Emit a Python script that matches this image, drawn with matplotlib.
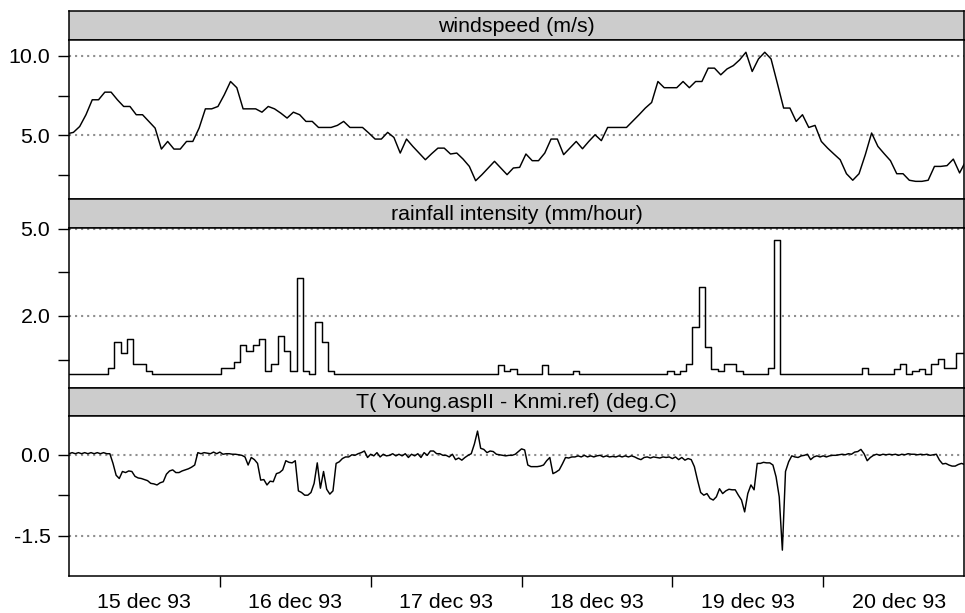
import numpy as np
import matplotlib
matplotlib.use('Agg')
import matplotlib.pyplot as plt
from matplotlib.ticker import FixedLocator, FixedFormatter, NullFormatter

plt.rcParams['font.family'] = ['Liberation Sans', 'DejaVu Sans']

# ---------------- data (time in hours since 15 dec 93 00:00) ----------------
panel_titles = ["windspeed (m/s)", "rainfall intensity (mm/hour)",
                "T( Young.aspII - Knmi.ref) (deg.C)"]
day_labels = ["15 dec 93", "16 dec 93", "17 dec 93", "18 dec 93", "19 dec 93", "20 dec 93"]

wind_start, wind_step = -0.3, 1.0
wind = [5.1, 5.19, 5.56, 6.3, 7.24, 7.24, 7.72, 7.72, 7.24, 6.82,
        6.82, 6.3, 6.3, 5.88, 5.46, 4.14, 4.62, 4.14, 4.14, 4.62,
        4.62, 5.46, 6.67, 6.67, 6.82, 7.55, 8.39, 8.0, 6.67, 6.67,
        6.67, 6.46, 6.82, 6.67, 6.4, 6.09, 6.46, 6.3, 5.88, 5.88,
        5.5, 5.5, 5.5, 5.63, 5.88, 5.5, 5.5, 5.5, 5.15, 4.77,
        4.77, 5.19, 4.87, 3.89, 4.77, 4.31, 3.89, 3.47, 3.85, 4.2,
        4.2, 3.83, 3.89, 3.51, 3.05, 2.15, 2.53, 2.95, 3.37, 2.95,
        2.53, 2.95, 2.99, 3.83, 3.41, 3.41, 3.89, 4.77, 4.77, 3.79,
        4.2, 4.62, 4.16, 4.62, 5.04, 4.67, 5.5, 5.5, 5.5, 5.5,
        5.9, 6.3, 6.72, 7.07, 8.39, 8.0, 8.0, 8.0, 8.39, 8.0,
        8.39, 8.39, 9.23, 9.23, 8.81, 9.18, 9.39, 9.75, 10.23, 9.02,
        9.81, 10.23, 9.81, 8.28, 6.72, 6.72, 5.88, 6.3, 5.5, 5.63,
        4.62, 4.2, 3.83, 3.47, 2.59, 2.18, 2.59, 3.79, 5.15, 4.31,
        3.85, 3.41, 2.59, 2.59, 2.18, 2.11, 2.11, 2.18, 3.05, 3.05,
        3.1, 3.51, 2.64, 3.4]

rain_start, rain_step = -0.8, 1.0
rain = [0, 0, 0, 0, 0, 0, 0,
        0.21, 1.12, 0.72, 1.21, 0.33, 0.33, 0.11,
        0, 0, 0, 0, 0, 0, 0, 0, 0, 0, 0,
        0.21, 0.21, 0.42, 1.01, 0.81, 1.01, 1.21, 0.1, 0.33, 1.32, 0.81, 0.1,
        3.3, 0.1, 0, 1.79, 1.12, 0.1,
        0, 0, 0, 0, 0, 0, 0, 0, 0, 0, 0, 0, 0, 0, 0, 0, 0, 0, 0, 0, 0, 0, 0, 0, 0, 0,
        0.3, 0.1, 0.19,
        0, 0, 0, 0,
        0.3,
        0, 0, 0, 0,
        0.1,
        0, 0, 0, 0, 0, 0, 0, 0, 0, 0, 0, 0, 0, 0,
        0.1, 0, 0.1, 0.33, 1.61, 3.0, 0.92, 0.19, 0.1, 0.33, 0.33, 0.1,
        0, 0, 0, 0,
        0.21, 4.6,
        0, 0, 0, 0, 0, 0, 0, 0, 0, 0, 0, 0, 0,
        0.21,
        0, 0, 0, 0,
        0.19, 0.33, 0, 0.1, 0.19, 0, 0.33, 0.52, 0.21, 0.21, 0.73, 0.73, 0.73]

temp_start, temp_step = 0.0, 0.5
temp = [
    0.02, 0.04, 0.02, 0.04, 0.02, 0.04, 0.02, 0.04, 0.02, 0.04, 0.02, 0.04, 0.02, 0.02,
    -0.16, -0.38, -0.44, -0.31, -0.33, -0.30, -0.31, -0.40, -0.43, -0.44, -0.46, -0.48, -0.53,
    -0.54, -0.56, -0.52, -0.50, -0.36, -0.30, -0.28, -0.33, -0.33, -0.30, -0.28, -0.26, -0.23, -0.19,
    0.04, 0.02, 0.04, 0.03, 0.02, 0.05, 0.02, 0.05, 0.01, 0.02, 0.02, 0.01, 0.01, 0.00, -0.01, -0.04,
    -0.19, -0.05, -0.09, -0.16, -0.47, -0.46, -0.56, -0.49, -0.50, -0.35, -0.33, -0.28, -0.11, -0.14, -0.15, -0.11,
    -0.67, -0.70, -0.75, -0.75, -0.70, -0.53, -0.15, -0.62, -0.31, -0.64, -0.73, -0.67, -0.16,
    -0.13, -0.07, -0.04, -0.04, 0.00, -0.01, 0.02, 0.04, 0.07, -0.05,
    0.01, -0.02, 0.04, -0.04, 0.01, -0.02, -0.01, 0.02, -0.02, 0.01, -0.02, 0.02, -0.05, 0.01, -0.02, 0.02,
    -0.05, 0.04, -0.01, 0.07, 0.07, 0.02, 0.02, -0.01, -0.01, -0.04, 0.01, -0.09, -0.06, -0.10, -0.05, -0.01, 0.02,
    0.20, 0.44, 0.12, 0.10, 0.04, 0.07, 0.06, 0.01, 0.00, -0.01, -0.02, -0.01, -0.01, 0.01, 0.06, 0.11, 0.09,
    -0.19, -0.22, -0.22, -0.22, -0.21, -0.19, -0.11, -0.05, -0.35, -0.32, -0.28, -0.17, -0.05,
    -0.06, -0.04, -0.04, -0.02, -0.04, -0.01, -0.04, -0.02, -0.04, -0.02, -0.01, -0.04, -0.02, -0.04, -0.03,
    -0.04, -0.02, -0.04, -0.02, -0.04, -0.02, -0.04, -0.07, -0.09, -0.05, -0.04, -0.06, -0.04, -0.05, -0.06,
    -0.04, -0.05, -0.04, -0.07, -0.04, -0.09, -0.05, -0.10, -0.07, -0.09,
    -0.22, -0.47, -0.70, -0.75, -0.72, -0.81, -0.84, -0.78, -0.63, -0.72, -0.67, -0.64, -0.65, -0.65,
    -0.75, -0.84, -1.06, -0.72, -0.56, -0.65, -0.16, -0.16, -0.14, -0.15, -0.15, -0.19, -0.41, -0.78,
    -1.77, -0.31, -0.13, -0.02, -0.04, -0.05, -0.02, -0.01, 0.01, -0.09, -0.04, -0.02, -0.04, -0.02, -0.04,
    -0.02, -0.01, -0.01, 0.00, 0.01, 0.00, 0.02, 0.01, 0.05, 0.06, 0.10, 0.02, -0.11, -0.05, -0.01,
    0.01, -0.01, 0.01, 0.00, 0.01, 0.00, 0.01, -0.01, 0.01, 0.00, 0.02, 0.01, 0.01, 0.00, 0.01,
    0.00, 0.01, -0.01, 0.00, 0.01, -0.10, -0.17, -0.16, -0.19, -0.21, -0.21, -0.18, -0.16, -0.18]

# axis specs
wind_ticks, wind_labelled = [2.5, 5.0, 7.5, 10.0], [5.0, 10.0]
rain_ticks, rain_labelled = [0.5, 2.0, 3.5, 5.0], [2.0, 5.0]
temp_ticks, temp_labelled = [-1.5, -0.75, 0.0], [-1.5, 0.0]
day_ticks = [24, 48, 72, 96, 120]
label_pos = [12, 36, 60, 84, 108, 132]

# ---------------- layout ----------------
W, H = 965, 613
fig = plt.figure(figsize=(W / 100, H / 100), dpi=100)
X0, X1 = 69, 964


def rect(y0, y1):
    return [X0 / W, 1 - y1 / H, (X1 - X0) / W, (y1 - y0) / H]


panels = [(11, 40, 199), (199, 228, 388), (388, 416, 576)]
ylims = [(1.0, 11.0), (-0.48, 5.03), (-2.25, 0.72)]
FS = 15.4
LW_FRAME = 1.1
XLIM = (0.0, 142.4)

series = [
    (wind_start + wind_step * np.arange(len(wind)), np.array(wind), 'line'),
    (rain_start + rain_step * np.arange(len(rain)), np.array(rain), 'step'),
    (temp_start + temp_step * np.arange(len(temp)), np.array(temp), 'line'),
]
ticks = [(wind_ticks, wind_labelled), (rain_ticks, rain_labelled), (temp_ticks, temp_labelled)]

for i, (ys, yh, yb) in enumerate(panels):
    # strip
    sax = fig.add_axes(rect(ys, yh))
    sax.set_facecolor('#cccccc')
    sax.set_xticks([])
    sax.set_yticks([])
    for sp in sax.spines.values():
        sp.set_linewidth(LW_FRAME)
    sax.text(0.5, 0.47, panel_titles[i], ha='center', va='center',
             fontsize=FS, transform=sax.transAxes)

    ax = fig.add_axes(rect(yh, yb))
    for sp in ax.spines.values():
        sp.set_linewidth(LW_FRAME)
    t, v, kind = series[i]
    if kind == 'step':
        ax.step(t, v, where='post', color='black', lw=1.05, zorder=3)
    else:
        ax.plot(t, v, color='black', lw=1.05, zorder=3)
    ax.set_xlim(*XLIM)
    ax.set_ylim(*ylims[i])

    all_t, lab_t = ticks[i]
    for g in lab_t:
        ax.axhline(g, color='#8f8f8f', lw=1.5, linestyle=(0, (1.0, 1.9)), zorder=1)
    ax.yaxis.set_major_locator(FixedLocator(lab_t))
    ax.yaxis.set_major_formatter(FixedFormatter([f"{x:.1f}" for x in lab_t]))
    ax.yaxis.set_minor_locator(FixedLocator([x for x in all_t if x not in lab_t]))
    ax.yaxis.set_minor_formatter(NullFormatter())
    ax.tick_params(axis='y', which='both', direction='out', length=7.9, width=1.0,
                   labelsize=FS, pad=5.5, right=False)

    if i < 2:
        ax.tick_params(axis='x', which='both', bottom=False, top=False,
                       labelbottom=False)
    else:
        ax.xaxis.set_major_locator(FixedLocator(day_ticks))
        ax.xaxis.set_major_formatter(NullFormatter())
        ax.xaxis.set_minor_locator(FixedLocator(label_pos))
        ax.xaxis.set_minor_formatter(FixedFormatter(day_labels))
        ax.tick_params(axis='x', which='major', direction='out', length=7.9, width=1.0,
                       top=False)
        ax.tick_params(axis='x', which='minor', length=0, labelsize=FS, pad=12, top=False)

fig.savefig('out.png', dpi=100)
